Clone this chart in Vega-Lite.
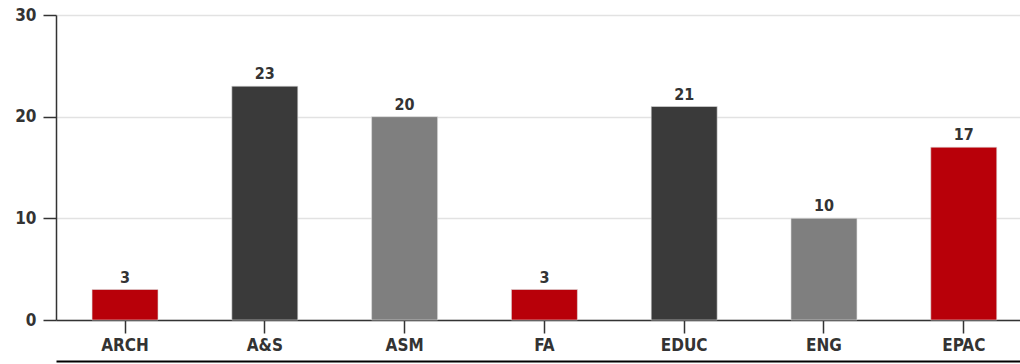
{
  "$schema": "https://vega.github.io/schema/vega-lite/v6.json",
  "autosize": "none",
  "width": 964,
  "height": 305,
  "padding": {"left": 56, "top": 15, "right": 0, "bottom": 44},
  "background": "#ffffff",
  "config": {
    "view": {"stroke": null},
    "font": "DejaVu Sans Condensed, Roboto, sans-serif",
    "axis": {"labelFont": "DejaVu Sans Condensed, Roboto, sans-serif"}
  },
  "data": {
    "values": [
      {"college": "ARCH", "count": 3, "group": "a"},
      {"college": "A&S", "count": 23, "group": "b"},
      {"college": "ASM", "count": 20, "group": "c"},
      {"college": "FA", "count": 3, "group": "a"},
      {"college": "EDUC", "count": 21, "group": "b"},
      {"college": "ENG", "count": 10, "group": "c"},
      {"college": "EPAC", "count": 17, "group": "a"}
    ]
  },
  "encoding": {
    "x": {
      "field": "college",
      "type": "nominal",
      "sort": null,
      "scale": {"paddingInner": 0.528, "paddingOuter": 0.212, "align": 0.608}
    },
    "y": {
      "field": "count",
      "type": "quantitative",
      "scale": {"domain": [0, 30], "nice": false}
    }
  },
  "layer": [
    {
      "mark": {"type": "bar", "stroke": "#dddddd", "strokeWidth": 0.6},
      "encoding": {
        "x": {
          "field": "college",
          "type": "nominal",
          "sort": null,
          "axis": {
            "title": null,
            "labelAngle": 0,
            "labelFontSize": 17,
            "labelFontWeight": "bold",
            "labelColor": "#333333",
            "labelPadding": 4,
            "tickSize": 13,
            "tickColor": "#333333",
            "tickWidth": 1.5,
            "domainColor": "#333333",
            "domainWidth": 1.5
          }
        },
        "y": {
          "field": "count",
          "type": "quantitative",
          "axis": {
            "title": null,
            "values": [0, 10, 20, 30],
            "labelFontSize": 17,
            "labelFontWeight": "bold",
            "labelColor": "#333333",
            "labelPadding": 7,
            "tickSize": 13,
            "tickColor": "#333333",
            "tickWidth": 1.5,
            "domainColor": "#333333",
            "domainWidth": 1.5,
            "gridColor": "#e2e2e2",
            "gridWidth": 1.5
          }
        },
        "color": {
          "field": "group",
          "type": "nominal",
          "scale": {"domain": ["a", "b", "c"], "range": ["#b80009", "#3a3a3a", "#7f7f7f"]},
          "legend": null
        }
      }
    },
    {
      "mark": {"type": "text", "baseline": "bottom", "dy": -4, "fontSize": 16, "fontWeight": "bold", "color": "#333333"},
      "encoding": {
        "x": {
          "field": "college",
          "type": "nominal",
          "sort": null,
          "axis": {
            "orient": "bottom",
            "offset": 41,
            "labels": false,
            "ticks": false,
            "grid": false,
            "title": null,
            "domainColor": "#000000",
            "domainWidth": 2
          }
        },
        "text": {"field": "count", "type": "quantitative"}
      }
    }
  ],
  "resolve": {"axis": {"x": "independent"}}
}
